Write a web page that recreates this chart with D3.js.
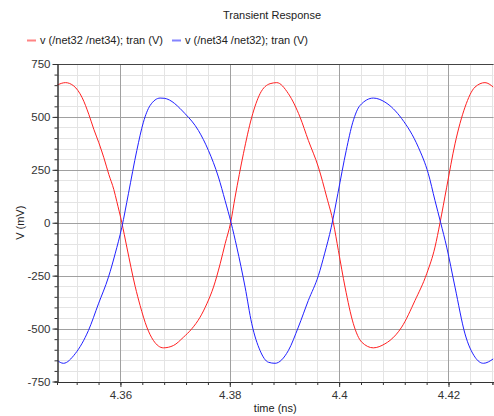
<!DOCTYPE html>
<html lang='en'>
	<head>
		<meta charset='utf-8'>
		<title>Transient Response</title>
		<script type='text/javascript' src='https://cdn.jsdelivr.net/npm/d3@7/dist/d3.min.js'></script>
		<style>
			body { margin: 0; background: #fff; }
			text { font-family: 'Liberation Sans', Arial, sans-serif; }
		</style>
	</head>
	<body>
		<svg id='svg' width='494' height='416'></svg>
		<script type='text/javascript'>
		// time in ns, values in mV
		var red_t = [4.3484, 4.34995, 4.35148, 4.353, 4.35422, 4.35514, 4.35605, 4.35697, 4.35788, 4.35879, 4.35934, 4.36026, 4.36117, 4.36269, 4.3636, 4.36483, 4.36603, 4.36786, 4.36969, 4.37152, 4.37305, 4.37457, 4.3758, 4.37702, 4.37824, 4.37915, 4.38015, 4.38097, 4.38249, 4.38402, 4.38554, 4.38737, 4.38859, 4.39071, 4.39285, 4.39437, 4.3962, 4.39773, 4.39894, 4.39986, 4.40108, 4.4026, 4.40413, 4.40625, 4.40838, 4.4093, 4.41144, 4.41388, 4.41601, 4.41753, 4.41845, 4.41967, 4.42119, 4.42302, 4.42485, 4.42667, 4.4282]
		var red_v = [650, 662, 646, 591, 512, 441, 378, 307, 228, 157, 100, 0, -115, -300, -391, -493, -556, -591, -580, -541, -501, -446, -383, -304, -194, -99, 0, 121, 326, 499, 610, 657, 662, 610, 499, 389, 263, 121, 0, -131, -304, -477, -564, -591, -572, -556, -493, -367, -241, -115, 0, 168, 373, 546, 641, 662, 641]
		var blue_t = [4.3484, 4.34958, 4.35172, 4.35415, 4.35598, 4.35781, 4.35903, 4.36026, 4.36146, 4.3630, 4.3642, 4.36543, 4.36726, 4.3680, 4.37183, 4.37426, 4.37609, 4.37792, 4.37914, 4.38024, 4.38128, 4.3828, 4.38402, 4.38554, 4.38706, 4.38828, 4.39071, 4.39254, 4.39437, 4.3962, 4.39733, 4.39856, 4.39976, 4.4013, 4.4025, 4.40382, 4.40625, 4.40838, 4.41144, 4.41448, 4.41631, 4.41753, 4.41857, 4.41967, 4.42119, 4.42302, 4.42485, 4.42638, 4.4282]
		var blue_v = [-650, -664, -619, -509, -383, -257, -147, -21, 137, 342, 475, 554, 589, 588, 515, 436, 342, 216, 105, 0, -115, -304, -477, -604, -659, -664, -604, -493, -367, -250, -147, -21, 137, 342, 475, 554, 589, 570, 492, 357, 232, 105, 0, -115, -304, -525, -635, -664, -643]
		var series_names = ['v (/net32 /net34); tran (V)', 'v (/net34 /net32); tran (V)']
		var series_colors = ['#ff2020', '#2020ff']
		var x_ticks = [4.36, 4.38, 4.40, 4.42]
		var x_tick_labels = ['4.36', '4.38', '4.4', '4.42']
		var y_ticks = [-750, -500, -250, 0, 250, 500, 750]

		var svg = d3.select('#svg')
		var p_left = 57, p_right = 493.5, p_top = 64, p_bottom = 381.5

		var x = d3.scaleLinear().domain([4.3484, 4.42823]).range([p_left, p_right])
		var y = d3.scaleLinear().domain([-750, 750]).range([p_bottom, p_top])

		var x_minor = d3.range(4.348, 4.4284, 0.004).filter(d => d >= 4.3484)
		var y_minor = d3.range(-750, 751, 50)

		// grid
		var grid = svg.append('g')
		grid.selectAll('.vmin').data(x_minor).enter().append('line')
			.attr('x1', d => Math.round(x(d)) + 0.5).attr('x2', d => Math.round(x(d)) + 0.5)
			.attr('y1', p_top).attr('y2', p_bottom).attr('stroke', '#e4e4e4')
		grid.selectAll('.hmin').data(y_minor).enter().append('line')
			.attr('y1', d => Math.round(y(d)) + 0.5).attr('y2', d => Math.round(y(d)) + 0.5)
			.attr('x1', p_left).attr('x2', p_right).attr('stroke', '#e4e4e4')
		grid.selectAll('.vmaj').data(x_ticks).enter().append('line')
			.attr('x1', d => Math.round(x(d)) + 0.5).attr('x2', d => Math.round(x(d)) + 0.5)
			.attr('y1', p_top).attr('y2', p_bottom).attr('stroke', '#a0a0a0')
		grid.selectAll('.hmaj').data(y_ticks).enter().append('line')
			.attr('y1', d => Math.round(y(d)) + 0.5).attr('y2', d => Math.round(y(d)) + 0.5)
			.attr('x1', p_left).attr('x2', p_right).attr('stroke', '#a0a0a0')

		// curves
		svg.append('clipPath').attr('id', 'clip').append('rect')
			.attr('x', p_left).attr('y', p_top).attr('width', p_right - p_left).attr('height', p_bottom - p_top)
		var line = d3.line().x(d => x(d[0])).y(d => y(d[1])).curve(d3.curveMonotoneX)
		var curves = [d3.zip(red_t, red_v), d3.zip(blue_t, blue_v)]
		svg.append('g').attr('clip-path', 'url(#clip)').selectAll('path').data(curves).enter().append('path')
			.attr('d', line).attr('fill', 'none').attr('stroke', (d, i) => series_colors[i]).attr('stroke-width', 1)

		// frame top
		svg.append('line').attr('x1', p_left).attr('x2', p_right).attr('y1', p_top + 0.5).attr('y2', p_top + 0.5).attr('stroke', '#444')

		// axes
		svg.append('g').attr('transform', 'translate(' + (p_left + 0.5) + ',0)')
			.call(d3.axisLeft(y).tickValues(y_minor).tickSize(3).tickFormat(''))
		svg.append('g').attr('transform', 'translate(' + (p_left + 0.5) + ',0)')
			.call(d3.axisLeft(y).tickValues(y_ticks).tickSize(5).tickSizeOuter(0).tickPadding(2).tickFormat(d => String(d)))
		svg.append('g').attr('transform', 'translate(0,' + (p_bottom + 0.5) + ')')
			.call(d3.axisBottom(x).tickValues(x_minor).tickSize(3).tickFormat(''))
		svg.append('g').attr('transform', 'translate(0,' + (p_bottom + 0.5) + ')')
			.call(d3.axisBottom(x).tickValues(x_ticks).tickSize(5).tickSizeOuter(0).tickPadding(4).tickFormat((d, i) => x_tick_labels[i]))
		svg.selectAll('.domain').attr('stroke', '#333')
		svg.selectAll('.tick line').attr('stroke', '#333')
		svg.selectAll('.tick text').attr('font-size', 11.5).attr('fill', '#333').style('font-family', "'Liberation Sans', Arial, sans-serif")

		// labels
		svg.append('text').attr('x', 272).attr('y', 19).attr('text-anchor', 'middle')
			.attr('font-size', 11).attr('fill', '#222').text('Transient Response')
		svg.append('text').attr('x', (p_left + p_right) / 2).attr('y', 412).attr('text-anchor', 'middle')
			.attr('font-size', 11).attr('fill', '#222').text('time (ns)')
		svg.append('text').attr('transform', 'translate(24,' + ((p_top + p_bottom) / 2) + ') rotate(-90)').attr('text-anchor', 'middle')
			.attr('font-size', 11).attr('fill', '#222').text('V (mV)')

		// legend
		var legend_x = [27, 172]
		var legend = svg.selectAll('.legend').data(series_names).enter().append('g')
			.attr('transform', (d, i) => 'translate(' + legend_x[i] + ',40)')
		legend.append('line').attr('x1', 0).attr('x2', 9).attr('y1', 0.5).attr('y2', 0.5)
			.attr('stroke', (d, i) => series_colors[i]).attr('stroke-width', 2).attr('opacity', 0.55)
		legend.append('text').attr('x', 13).attr('y', 4).attr('font-size', 11).attr('fill', '#222').text(d => d)
		</script>
	</body>
</html>
